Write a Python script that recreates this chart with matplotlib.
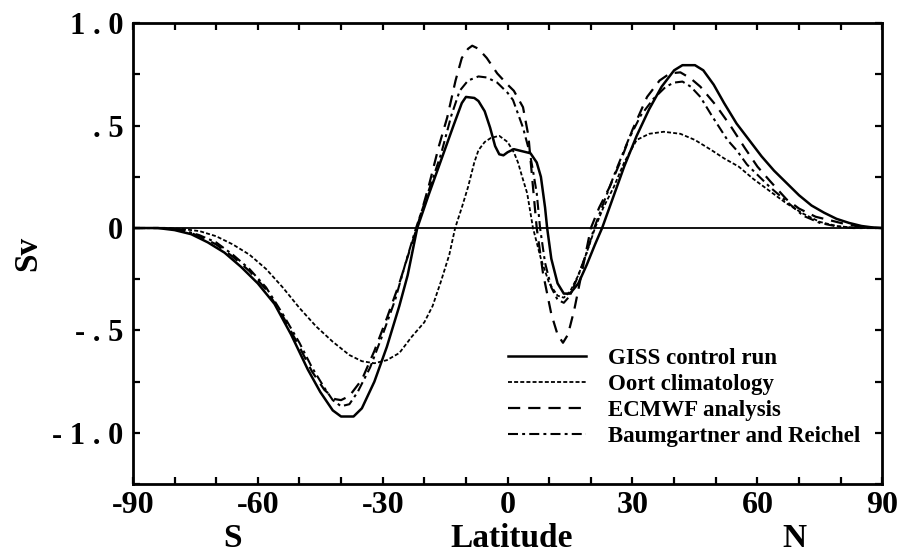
import numpy as np
import matplotlib
matplotlib.use("Agg")
import matplotlib.pyplot as plt
from matplotlib.ticker import MultipleLocator, FixedLocator, FixedFormatter

plt.rcParams['font.family'] = ['Liberation Serif', 'DejaVu Serif']
plt.rcParams['font.weight'] = 'bold'

# GISS control run (solid)
giss_lat = [-90, -84, -80, -76, -72, -68, -64, -60, -56, -52, -48, -45, -42, -40, -37,
            -35, -32, -29, -26, -24, -21.7, -19, -16, -13, -11, -10, -8, -7, -5.5, -4.2,
            -3, -2, -1, 0, 1.5, 3.5, 5.5, 7, 8, 9, 9.5, 10.5, 12, 13.5, 15, 17, 19, 21,
            22.7, 25, 28, 31, 34, 37, 40, 42, 45, 47, 49.5, 52, 55, 58, 61, 64, 67, 70,
            73, 76, 79, 82, 85, 88, 90]
giss_sv = [0, 0, -0.01, -0.03, -0.07, -0.12, -0.19, -0.27, -0.37, -0.52, -0.69, -0.80,
           -0.89, -0.92, -0.92, -0.88, -0.75, -0.58, -0.38, -0.23, 0, 0.16, 0.33, 0.50,
           0.61, 0.64, 0.635, 0.62, 0.57, 0.49, 0.40, 0.36, 0.355, 0.37, 0.385, 0.375,
           0.365, 0.32, 0.25, 0.10, 0, -0.15, -0.27, -0.32, -0.32, -0.27, -0.18, -0.08,
           0, 0.13, 0.30, 0.45, 0.58, 0.69, 0.77, 0.795, 0.795, 0.77, 0.70, 0.61, 0.51,
           0.43, 0.35, 0.28, 0.22, 0.16, 0.11, 0.075, 0.045, 0.025, 0.01, 0.002, 0]

# Oort climatology (dotted)
oort_lat = [-90, -82, -78, -74, -70, -66, -62, -58, -54, -50, -46, -42, -38, -35, -32,
            -29, -26, -23, -20, -18, -16, -14, -12.6, -11, -9.5, -8, -7, -5.5, -4, -2,
            0, 1.5, 2.5, 3.5, 4.7, 6.1, 8, 10, 12, 13.5, 15, 17, 19, 21, 23, 25.5, 28,
            31, 34, 37.5, 41.5, 45, 49, 52, 55.5, 59, 63, 67, 71, 75, 79, 83, 90]
oort_sv = [0, 0, -0.005, -0.015, -0.04, -0.08, -0.13, -0.20, -0.29, -0.39, -0.48, -0.555,
           -0.62, -0.65, -0.66, -0.645, -0.61, -0.53, -0.46, -0.38, -0.26, -0.13, 0,
           0.10, 0.20, 0.32, 0.38, 0.42, 0.44, 0.45, 0.42, 0.37, 0.32, 0.25, 0.17, 0,
           -0.15, -0.27, -0.33, -0.34, -0.31, -0.23, -0.12, 0, 0.10, 0.20, 0.32, 0.43,
           0.46, 0.47, 0.46, 0.43, 0.38, 0.34, 0.30, 0.24, 0.18, 0.12, 0.07, 0.03, 0.01,
           0.002, 0]

# ECMWF analysis (dashed)
ecmwf_lat = [-90, -82, -78, -74, -70, -66, -62, -58, -54, -50, -47, -44, -41.5, -40, -38,
             -35, -32, -29, -26, -24, -21.8, -19, -16.5, -14.5, -12.5, -11, -9.5, -8.5,
             -7, -5, -2.5, 0, 1.5, 3.7, 5, 6.1, 7, 8.5, 10.5, 12, 13.3, 14.5, 16, 17.5,
             19, 20, 22, 24.5, 27, 30, 33.5, 36.5, 39, 41.5, 44, 46.3, 50, 53.5, 57, 60,
             63, 67, 70, 74, 78, 82, 86, 90]
ecmwf_sv = [0, 0, -0.01, -0.04, -0.08, -0.14, -0.21, -0.30, -0.43, -0.58, -0.70, -0.79,
            -0.835, -0.84, -0.82, -0.74, -0.60, -0.44, -0.27, -0.14, 0, 0.20, 0.40,
            0.54, 0.72, 0.83, 0.875, 0.89, 0.875, 0.83, 0.755, 0.70, 0.67, 0.59, 0.45,
            0.20, 0, -0.22, -0.42, -0.52, -0.56, -0.52, -0.40, -0.25, -0.10, 0, 0.10,
            0.20, 0.32, 0.48, 0.64, 0.72, 0.755, 0.76, 0.73, 0.69, 0.60, 0.50, 0.39,
            0.30, 0.23, 0.14, 0.095, 0.055, 0.035, 0.015, 0.003, 0]

# Baumgartner and Reichel (dash-dot)
br_lat = [-90, -82, -78, -74, -70, -66, -62, -58, -54, -50, -47, -44, -42, -40, -38, -36,
          -33, -30, -27, -24.5, -22, -19, -16, -13.5, -11.5, -9.5, -7, -5, -2.5, 0, 1.3,
          3.7, 5.4, 6.1, 7, 7.8, 9, 10.5, 12, 13.5, 15, 17, 19, 20.8, 23, 26, 29, 32, 35,
          38, 40, 42, 44, 46.3, 49, 52.8, 55, 57.5, 60, 63, 67, 71, 75, 79, 83, 90]
br_sv = [0, 0, -0.01, -0.035, -0.07, -0.13, -0.20, -0.29, -0.42, -0.56, -0.68, -0.78,
         -0.84, -0.87, -0.86, -0.80, -0.68, -0.52, -0.35, -0.17, 0, 0.18, 0.36, 0.55,
         0.67, 0.72, 0.74, 0.735, 0.71, 0.66, 0.625, 0.49, 0.36, 0.28, 0.17, 0, -0.17,
         -0.29, -0.35, -0.365, -0.33, -0.23, -0.12, 0, 0.12, 0.28, 0.43, 0.55, 0.63,
         0.69, 0.71, 0.715, 0.69, 0.64, 0.55, 0.43, 0.38, 0.31, 0.26, 0.20, 0.13, 0.06,
         0.025, 0.008, 0, 0]

x_ticks = [-90, -60, -30, 0, 30, 60, 90]
x_labels = ['-90', '-60', '-30', '0', '30', '60', '90']
y_ticks = [-1.0, -0.5, 0, 0.5, 1.0]
y_labels = ['- 1 . 0', '- . 5', '0', '. 5', '1 . 0']

fig = plt.figure(figsize=(9.04, 5.52), dpi=100)
ax = fig.add_axes([0.147, 0.123, 0.829, 0.835])

ax.axhline(0, color='black', lw=1.3)
ax.plot(giss_lat, giss_sv, color='black', lw=1.8, label='GISS control run')
ax.plot(oort_lat, oort_sv, color='black', lw=1.3, dashes=(2.2, 1.2),
        label='Oort climatology')
ax.plot(ecmwf_lat, ecmwf_sv, color='black', lw=1.6, dashes=(5.5, 3.6),
        label='ECMWF analysis')
ax.plot(br_lat, br_sv, color='black', lw=1.5, dashes=(4.8, 2, 1.4, 2),
        label='Baumgartner and Reichel')

ax.set_xlim(-90, 90)
ax.set_ylim(-1.25, 1.0)
ax.xaxis.set_major_locator(FixedLocator(x_ticks))
ax.xaxis.set_major_formatter(FixedFormatter(x_labels))
ax.xaxis.set_minor_locator(MultipleLocator(10))
ax.yaxis.set_major_locator(FixedLocator(y_ticks))
ax.yaxis.set_major_formatter(FixedFormatter(y_labels))
ax.yaxis.set_minor_locator(MultipleLocator(0.25))
ax.tick_params(which='both', direction='in', top=True, right=True,
               length=5, width=1.6)
ax.tick_params(axis='x', labelsize=23, pad=5)
ax.tick_params(axis='y', labelsize=22, pad=7)
for s in ax.spines.values():
    s.set_linewidth(2.0)

ax.set_ylabel('Sv', fontsize=24, fontweight='bold', labelpad=6)
lab_tr = ax.get_xaxis_transform()
ax.text(-66, -0.117, 'S', transform=lab_tr, ha='center', va='center', fontsize=24)
ax.text(1, -0.117, 'Latitude', transform=lab_tr, ha='center', va='center', fontsize=24)
ax.text(69, -0.117, 'N', transform=lab_tr, ha='center', va='center', fontsize=24)

ax.legend(loc='upper left', bbox_to_anchor=(0.50, 0.295), frameon=False,
          fontsize=16.5, handlelength=3.4, handletextpad=1.0, labelspacing=0.22,
          borderpad=0, borderaxespad=0)

fig.savefig('out.png', dpi=100)
